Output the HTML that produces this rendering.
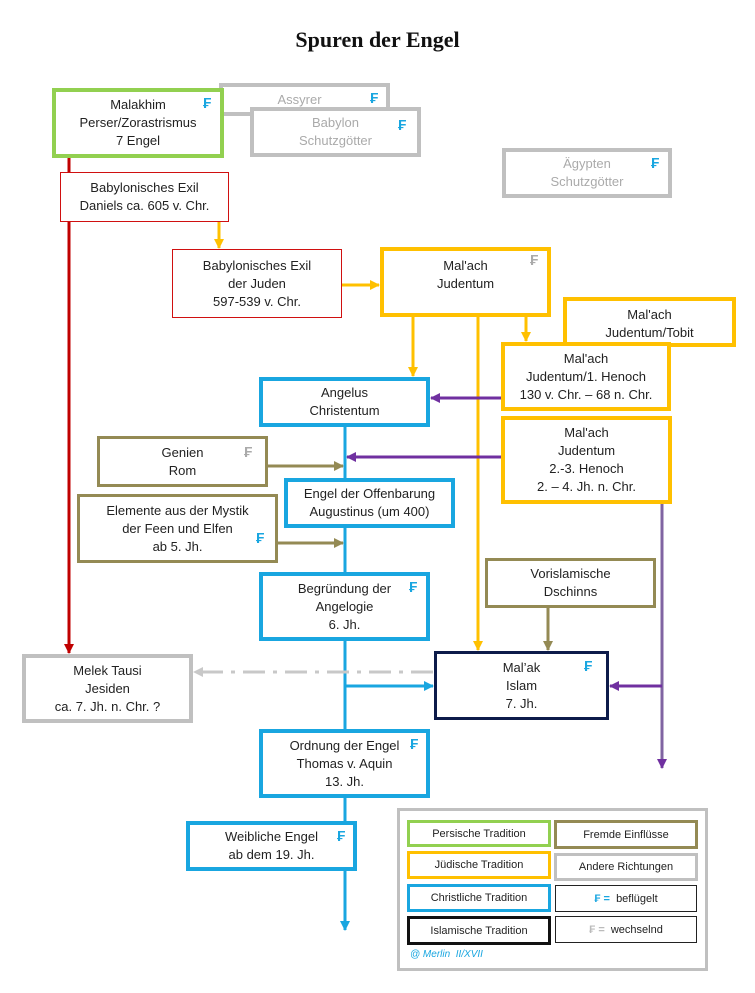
<!DOCTYPE html>
<html><head><meta charset="utf-8"><style>
body{margin:0;width:755px;height:993px;background:#fff;position:relative;font-family:"Liberation Sans",sans-serif;overflow:hidden}
.b{position:absolute;box-sizing:border-box;background:#fff;text-align:center;font-size:13px;color:#222;line-height:18px;display:flex;flex-direction:column;justify-content:center}
.g{border:4px solid #92d050}.y{border:4px solid #ffc000}.bl{border:4px solid #19a6e0}.gr{border:4px solid #c0c0c0;color:#aaa}
.r{border:1px solid #d01010}.o{border:3px solid #948a54}.n{border:3px solid #0d1b4a}
.f{position:absolute;color:#19a6e0;font-weight:bold;font-size:15px}
.fg{color:#aaa}
.l{position:absolute;box-sizing:border-box;background:#fff;text-align:center;font-size:11px;color:#222;display:flex;align-items:center;justify-content:center}
svg{position:absolute;left:0;top:0}
</style></head><body>
<div style="position:absolute;left:0;width:755px;top:27px;text-align:center;font-family:'Liberation Serif',serif;font-weight:bold;font-size:22px;color:#111">Spuren der Engel</div>
<svg width="755" height="993">
<defs>
<marker id="red" markerWidth="10" markerHeight="10" refX="9" refY="5" orient="auto" markerUnits="userSpaceOnUse"><path d="M0,0L10,5L0,10z" fill="#c00000"/></marker>
<marker id="yel" markerWidth="10" markerHeight="10" refX="9" refY="5" orient="auto" markerUnits="userSpaceOnUse"><path d="M0,0L10,5L0,10z" fill="#ffc000"/></marker>
<marker id="pur" markerWidth="10" markerHeight="10" refX="9" refY="5" orient="auto" markerUnits="userSpaceOnUse"><path d="M0,0L10,5L0,10z" fill="#7030a0"/></marker>
<marker id="blu" markerWidth="10" markerHeight="10" refX="9" refY="5" orient="auto" markerUnits="userSpaceOnUse"><path d="M0,0L10,5L0,10z" fill="#19a6e0"/></marker>
<marker id="oli" markerWidth="10" markerHeight="10" refX="9" refY="5" orient="auto" markerUnits="userSpaceOnUse"><path d="M0,0L10,5L0,10z" fill="#948a54"/></marker>
<marker id="gra" markerWidth="10" markerHeight="10" refX="9" refY="5" orient="auto" markerUnits="userSpaceOnUse"><path d="M0,0L10,5L0,10z" fill="#c8c8c8"/></marker>
</defs>
<line x1="222" y1="111" x2="252" y2="111" stroke="#c0c0c0" stroke-width="4"/>
<line x1="69" y1="157" x2="69" y2="653" stroke="#c00000" stroke-width="3" marker-end="url(#red)"/>
<g stroke="#ffc000" stroke-width="3">
<line x1="219" y1="221" x2="219" y2="248" marker-end="url(#yel)"/>
<line x1="341" y1="285" x2="379" y2="285" marker-end="url(#yel)"/>
<line x1="413" y1="315" x2="413" y2="376" marker-end="url(#yel)"/>
<line x1="478" y1="315" x2="478" y2="650" marker-end="url(#yel)"/>
<line x1="526" y1="315" x2="526" y2="341" marker-end="url(#yel)"/>
</g>
<g stroke="#7030a0" stroke-width="3">
<line x1="501" y1="398" x2="431" y2="398" marker-end="url(#pur)"/>
<line x1="501" y1="457" x2="347" y2="457" marker-end="url(#pur)"/>
<line x1="662" y1="503" x2="662" y2="768" marker-end="url(#pur)" stroke="#8064a2"/>
<line x1="662" y1="686" x2="610" y2="686" marker-end="url(#pur)"/>
</g>
<g stroke="#19a6e0" stroke-width="3">
<line x1="345" y1="426" x2="345" y2="930" marker-end="url(#blu)"/>
<line x1="345" y1="686" x2="433" y2="686" marker-end="url(#blu)"/>
</g>
<g stroke="#948a54" stroke-width="3">
<line x1="267" y1="466" x2="343" y2="466" marker-end="url(#oli)"/>
<line x1="277" y1="543" x2="343" y2="543" marker-end="url(#oli)"/>
<line x1="548" y1="607" x2="548" y2="650" marker-end="url(#oli)"/>
</g>
<line x1="433" y1="672" x2="194" y2="672" stroke="#c8c8c8" stroke-width="3" stroke-dasharray="22,8,4,8" marker-end="url(#gra)"/>
</svg>

<div class="b gr" style="left:219px;top:83px;width:171px;height:33px;justify-content:flex-start;padding-top:4px;padding-right:10px">Assyrer</div><span class="f" style="left:370px;top:90px">₣</span>
<div class="b gr" style="left:250px;top:107px;width:171px;height:50px">Babylon<br>Schutzgötter</div><span class="f" style="left:398px;top:117px">₣</span>
<div class="b g" style="left:52px;top:88px;width:172px;height:70px">Malakhim<br>Perser/Zorastrismus<br>7 Engel</div><span class="f" style="left:203px;top:95px">₣</span>
<div class="b gr" style="left:502px;top:148px;width:170px;height:50px">Ägypten<br>Schutzgötter</div><span class="f" style="left:651px;top:155px">₣</span>
<div class="b r" style="left:60px;top:172px;width:169px;height:50px">Babylonisches Exil<br>Daniels ca. 605 v. Chr.</div>
<div class="b r" style="left:172px;top:249px;width:170px;height:69px">Babylonisches Exil<br>der Juden<br>597-539 v. Chr.</div>
<div class="b y" style="left:380px;top:247px;width:171px;height:70px;justify-content:flex-start;padding-top:6px">Mal'ach<br>Judentum</div><span class="f fg" style="left:530px;top:252px">₣</span>
<div class="b y" style="left:563px;top:297px;width:173px;height:50px;justify-content:flex-start;padding-top:5px">Mal'ach<br>Judentum/Tobit</div>
<div class="b y" style="left:501px;top:342px;width:170px;height:69px">Mal'ach<br>Judentum/1. Henoch<br>130 v. Chr. – 68 n. Chr.</div>
<div class="b bl" style="left:259px;top:377px;width:171px;height:50px">Angelus<br>Christentum</div>
<div class="b y" style="left:501px;top:416px;width:171px;height:88px">Mal'ach<br>Judentum<br>2.-3. Henoch<br>2. – 4. Jh. n. Chr.</div>
<div class="b o" style="left:97px;top:436px;width:171px;height:51px">Genien<br>Rom</div><span class="f fg" style="left:244px;top:444px">₣</span>
<div class="b bl" style="left:284px;top:478px;width:171px;height:50px">Engel der Offenbarung<br>Augustinus (um 400)</div>
<div class="b o" style="left:77px;top:494px;width:201px;height:69px">Elemente aus der Mystik<br>der Feen und Elfen<br>ab 5. Jh.</div><span class="f" style="left:256px;top:530px">₣</span>
<div class="b bl" style="left:259px;top:572px;width:171px;height:69px">Begründung der<br>Angelogie<br>6. Jh.</div><span class="f" style="left:409px;top:579px">₣</span>
<div class="b o" style="left:485px;top:558px;width:171px;height:50px">Vorislamische<br>Dschinns</div>
<div class="b gr" style="left:22px;top:654px;width:171px;height:69px;color:#222">Melek Tausi<br>Jesiden<br>ca. 7. Jh. n. Chr. ?</div>
<div class="b n" style="left:434px;top:651px;width:175px;height:69px">Mal’ak<br>Islam<br>7. Jh.</div><span class="f" style="left:584px;top:658px">₣</span>
<div class="b bl" style="left:259px;top:729px;width:171px;height:69px">Ordnung der Engel<br>Thomas v. Aquin<br>13. Jh.</div><span class="f" style="left:410px;top:736px">₣</span>
<div class="b bl" style="left:186px;top:821px;width:171px;height:50px">Weibliche Engel<br>ab dem 19. Jh.</div><span class="f" style="left:337px;top:828px">₣</span>

<div style="position:absolute;left:397px;top:808px;width:311px;height:163px;box-sizing:border-box;border:3px solid #c0c0c0;background:#fff"></div>
<div class="l" style="left:407px;top:820px;width:144px;height:27px;border:3px solid #92d050">Persische Tradition</div>
<div class="l" style="left:554px;top:820px;width:144px;height:29px;border:3px solid #948a54">Fremde Einflüsse</div>
<div class="l" style="left:407px;top:851px;width:144px;height:28px;border:3px solid #ffc000">Jüdische Tradition</div>
<div class="l" style="left:554px;top:853px;width:144px;height:28px;border:3px solid #c0c0c0">Andere Richtungen</div>
<div class="l" style="left:407px;top:884px;width:144px;height:28px;border:3px solid #19a6e0">Christliche Tradition</div>
<div class="l" style="left:555px;top:885px;width:142px;height:27px;border:1px solid #222"><b style="color:#19a6e0">₣ =</b>&nbsp; beflügelt</div>
<div class="l" style="left:407px;top:916px;width:144px;height:29px;border:3px solid #111">Islamische Tradition</div>
<div class="l" style="left:555px;top:916px;width:142px;height:27px;border:1px solid #222"><b style="color:#bbb">₣ =</b>&nbsp; wechselnd</div>
<div style="position:absolute;left:410px;top:949px;font-size:10px;font-style:italic;color:#19a6e0">@ Merlin &nbsp;II/XVII</div>
</body></html>
